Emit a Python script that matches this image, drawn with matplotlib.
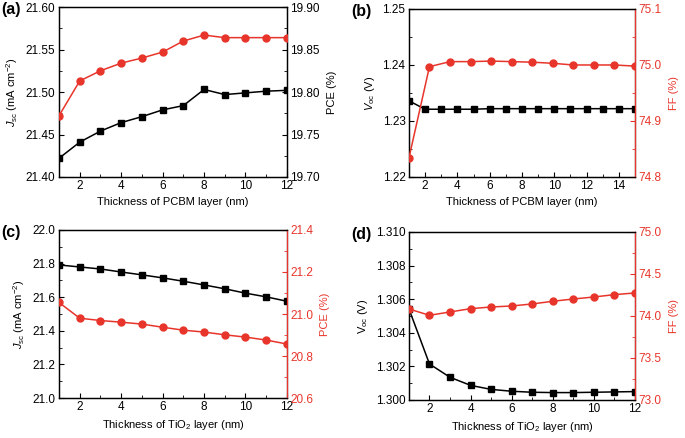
import numpy as np
import matplotlib
matplotlib.use("Agg")
import matplotlib.pyplot as plt
from matplotlib.ticker import MultipleLocator

plt.rcParams['font.family'] = ['Liberation Sans', 'DejaVu Sans']
plt.rcParams['mathtext.fontset'] = 'custom'
plt.rcParams['mathtext.rm'] = 'Liberation Sans'
plt.rcParams['mathtext.it'] = 'Liberation Sans:italic'
plt.rcParams['font.size'] = 8

RED = '#e8352b'

# (a) PCBM thickness vs Jsc / PCE
pcbm_x = [1, 2, 3, 4, 5, 6, 7, 8, 9, 10, 11, 12]
jsc_a = [21.422, 21.441, 21.454, 21.464, 21.471, 21.479, 21.484, 21.503,
         21.497, 21.499, 21.501, 21.502]
pce_a = [19.772, 19.813, 19.825, 19.834, 19.840, 19.847, 19.860, 19.867,
         19.864, 19.864, 19.864, 19.864]

# (b) PCBM thickness vs Voc / FF
voc_x_b = list(range(1, 16))
voc_b = [1.2336, 1.2321, 1.2321, 1.2321, 1.2321, 1.2322, 1.2322, 1.2322,
         1.2322, 1.2322, 1.2322, 1.2322, 1.2322, 1.2322, 1.2322]
ff_x_b = [1, 2.27, 3.55, 4.82, 6.09, 7.36, 8.64, 9.91, 11.18, 12.45, 13.73, 15]
ff_b = [74.834, 74.997, 75.006, 75.006, 75.007, 75.006, 75.005, 75.003,
        75.000, 75.000, 75.000, 74.998]

# (c) TiO2 thickness vs Jsc / PCE
tio2_x = [1, 2, 3, 4, 5, 6, 7, 8, 9, 10, 11, 12]
jsc_c = [21.792, 21.780, 21.768, 21.750, 21.733, 21.715, 21.695, 21.673,
         21.650, 21.624, 21.602, 21.576]
pce_c = [21.055, 20.980, 20.969, 20.961, 20.952, 20.937, 20.923, 20.914,
         20.901, 20.890, 20.876, 20.857]

# (d) TiO2 thickness vs Voc / FF
voc_d = [1.30542, 1.30214, 1.30135, 1.30087, 1.30063, 1.30052, 1.30046,
         1.30044, 1.30044, 1.30046, 1.30048, 1.30050]
ff_d = [74.083, 74.008, 74.048, 74.087, 74.107, 74.119, 74.143, 74.175,
        74.202, 74.226, 74.254, 74.274]

fig = plt.figure(figsize=(6.85, 4.38), dpi=100)


def style_axis(ax):
    ax.tick_params(which='both', direction='in', top=False)
    ax.tick_params(which='major', length=3.5, width=0.8)
    ax.tick_params(which='minor', length=2, width=0.6)
    for s in ax.spines.values():
        s.set_linewidth(0.9)


def make_panel(rect, label, xs_l, yl, xs_r, yr, xlim, ylim_l, ymaj_l,
               ylim_r, ymaj_r, xlabel, ylabel_l, ylabel_r, right_red, fmt_l, fmt_r):
    ax = fig.add_axes(rect)
    ax2 = ax.twinx()
    ax.plot(xs_l, yl, color='black', marker='s', markersize=4.5, lw=1.1, zorder=3)
    ax2.plot(xs_r, yr, color=RED, marker='o', markersize=5, lw=1.1, zorder=3)
    ax.set_xlim(*xlim)
    ax.set_xticks(np.arange(2, xlim[1] + 0.1, 2))
    ax.xaxis.set_minor_locator(MultipleLocator(1))
    ax.set_ylim(*ylim_l)
    ax.yaxis.set_major_locator(MultipleLocator(ymaj_l))
    ax.yaxis.set_minor_locator(MultipleLocator(ymaj_l / 2))
    ax2.set_ylim(*ylim_r)
    ax2.yaxis.set_major_locator(MultipleLocator(ymaj_r))
    ax2.yaxis.set_minor_locator(MultipleLocator(ymaj_r / 2))
    ax.yaxis.set_major_formatter(fmt_l)
    ax2.yaxis.set_major_formatter(fmt_r)
    style_axis(ax)
    style_axis(ax2)
    ax.set_xlabel(xlabel, labelpad=3, fontsize=8)
    ax.set_ylabel(ylabel_l, labelpad=4, fontsize=8)
    ax2.set_ylabel(ylabel_r, labelpad=5, fontsize=8)
    ax.tick_params(axis='both', labelsize=8.5, pad=2.5)
    ax2.tick_params(axis='y', labelsize=8.5, pad=2.5)
    if right_red:
        ax2.spines['right'].set_color(RED)
        ax2.tick_params(axis='y', which='both', colors=RED)
        ax2.yaxis.label.set_color(RED)
    ax.text(-0.255, 1.03, label, transform=ax.transAxes,
            fontsize=11.5, fontweight='bold', va='top', ha='left')
    return ax, ax2


jsc_label = r'$J_{\mathrm{sc}}$ (mA cm$^{-2}$)'

make_panel([0.0861, 0.5959, 0.3328, 0.388], '(a)',
           pcbm_x, jsc_a, pcbm_x, pce_a, (1, 12),
           (21.40, 21.60), 0.05, (19.70, 19.90), 0.05,
           'Thickness of PCBM layer (nm)', jsc_label, 'PCE (%)',
           False, '{x:.2f}', '{x:.2f}')

make_panel([0.597, 0.5959, 0.33, 0.3836], '(b)',
           voc_x_b, voc_b, ff_x_b, ff_b, (1, 15),
           (1.22, 1.25), 0.01, (74.8, 75.1), 0.1,
           'Thickness of PCBM layer (nm)', r'$V_{\mathrm{oc}}$ (V)', 'FF (%)',
           True, '{x:.2f}', '{x:.1f}')

make_panel([0.0861, 0.0913, 0.3328, 0.3836], '(c)',
           tio2_x, jsc_c, tio2_x, pce_c, (1, 12),
           (21.0, 22.0), 0.2, (20.6, 21.4), 0.2,
           'Thickness of TiO$_2$ layer (nm)', jsc_label, 'PCE (%)',
           True, '{x:.1f}', '{x:.1f}')

make_panel([0.597, 0.0868, 0.33, 0.3836], '(d)',
           tio2_x, voc_d, tio2_x, ff_d, (1, 12),
           (1.300, 1.310), 0.002, (73.0, 75.0), 0.5,
           'Thickness of TiO$_2$ layer (nm)', r'V$_{\mathrm{oc}}$ (V)', 'FF (%)',
           True, '{x:.3f}', '{x:.1f}')

fig.savefig('out.png', dpi=100)
